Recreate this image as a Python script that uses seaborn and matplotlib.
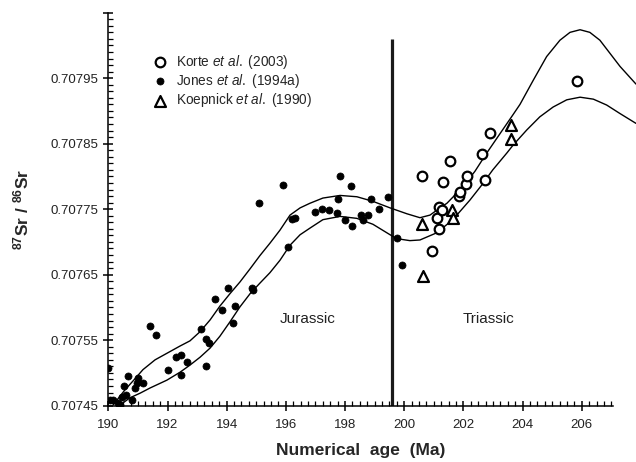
import numpy as np
import pandas as pd
import matplotlib
matplotlib.use("Agg")
import matplotlib.pyplot as plt
from matplotlib.ticker import FixedLocator
import seaborn as sns

# Korte et al. (2003) - open circles
korte_age = [200.59, 200.95, 201.10, 201.18, 201.19, 201.26, 201.32, 201.54,
             201.86, 201.88, 202.07, 202.11, 202.61, 202.72, 202.89, 205.82]
korte_sr = [0.707801, 0.707686, 0.707736, 0.707753, 0.707720, 0.707749, 0.707791, 0.707824,
            0.707770, 0.707776, 0.707789, 0.707801, 0.707835, 0.707795, 0.707867, 0.707946]

# Jones et al. (1994a) - filled dots
jones_age = [190.00, 190.06, 190.17, 190.34, 190.40, 190.45, 190.53, 190.60, 190.67, 190.79,
             190.90, 190.97, 191.01, 191.18, 191.41, 191.62, 192.00, 192.28, 192.44, 192.45,
             192.67, 193.12, 193.29, 193.30, 193.41, 193.60, 193.85, 194.05, 194.20, 194.28,
             194.86, 194.90, 195.09, 195.91, 196.06, 196.19, 196.30, 196.98, 197.23, 197.45,
             197.72, 197.77, 197.84, 197.99, 198.21, 198.25, 198.55, 198.60, 198.78, 198.88,
             199.15, 199.46, 199.76, 199.91]
jones_sr = [0.707507, 0.707459, 0.707459, 0.707454, 0.707451, 0.707464, 0.707480, 0.707466, 0.707495, 0.707459,
            0.707477, 0.707485, 0.707492, 0.707484, 0.707571, 0.707558, 0.707505, 0.707524, 0.707527, 0.707497,
            0.707516, 0.707567, 0.707552, 0.707510, 0.707545, 0.707613, 0.707596, 0.707629, 0.707577, 0.707602,
            0.707629, 0.707626, 0.707759, 0.707787, 0.707692, 0.707735, 0.707737, 0.707745, 0.707750, 0.707749,
            0.707744, 0.707766, 0.707801, 0.707734, 0.707785, 0.707725, 0.707741, 0.707734, 0.707741, 0.707765,
            0.707750, 0.707768, 0.707706, 0.707665]

# Koepnick et al. (1990) - open triangles
koep_age = [200.61, 200.62, 201.62, 201.63, 203.60, 203.60]
koep_sr = [0.707728, 0.707648, 0.707749, 0.707737, 0.707878, 0.707857]

# envelope curves
upper_age = [190.16, 190.56, 190.90, 191.17, 191.58, 191.98, 192.42, 192.76, 193.10, 193.44,
             193.77, 194.11, 194.45, 194.79, 195.12, 195.46, 195.80, 196.14, 196.48, 196.81,
             197.25, 197.83, 198.40, 198.94, 199.52, 200.09, 200.53, 200.87, 201.21, 201.44,
             201.98, 202.39, 202.79, 203.23, 203.67, 203.91, 204.36, 204.81, 205.26, 205.60,
             205.94, 206.27, 206.61, 206.95, 207.29, 207.83]
upper_sr = [0.707451, 0.707474, 0.707491, 0.707505, 0.707520, 0.707530, 0.707541, 0.707549, 0.707563, 0.707581,
            0.707602, 0.707621, 0.707639, 0.707659, 0.707679, 0.707698, 0.707718, 0.707741, 0.707752, 0.707759,
            0.707767, 0.707771, 0.707769, 0.707762, 0.707752, 0.707743, 0.707737, 0.707741, 0.707752, 0.707759,
            0.707784, 0.707808, 0.707836, 0.707865, 0.707894, 0.707910, 0.707947, 0.707983, 0.708008, 0.708020,
            0.708024, 0.708020, 0.708008, 0.707988, 0.707968, 0.707941]

lower_age = [190.40, 190.73, 191.07, 191.41, 191.98, 192.42, 192.76, 193.10, 193.44, 193.77,
             194.11, 194.45, 194.79, 195.12, 195.46, 195.80, 196.14, 196.48, 196.81, 197.25,
             197.83, 198.40, 198.94, 199.52, 199.75, 200.19, 200.53, 201.10, 201.64, 202.22,
             202.62, 202.99, 203.47, 203.68, 204.14, 204.58, 205.03, 205.49, 205.94, 206.39,
             206.84, 207.29, 207.83]
lower_sr = [0.707451, 0.707462, 0.707469, 0.707477, 0.707489, 0.707501, 0.707512, 0.707524, 0.707538, 0.707556,
            0.707578, 0.707601, 0.707621, 0.707637, 0.707653, 0.707672, 0.707695, 0.707711, 0.707721, 0.707734,
            0.707739, 0.707736, 0.707727, 0.707711, 0.707705, 0.707702, 0.707703, 0.707714, 0.707734, 0.707764,
            0.707787, 0.707810, 0.707836, 0.707848, 0.707871, 0.707891, 0.707906, 0.707917, 0.707921, 0.707918,
            0.707909, 0.707896, 0.707881]

boundary_age = 199.6
boundary_top = 0.70801

x_ticks = [190, 192, 194, 196, 198, 200, 202, 204, 206]
y_ticks = [0.70745, 0.70755, 0.70765, 0.70775, 0.70785, 0.70795, 0.70805]
y_labels = ['0.70745', '0.70755', '0.70765', '0.70775', '0.70785', '0.70795', '']

sns.set_style("ticks")
plt.rcParams['font.family'] = ['Liberation Sans', 'DejaVu Sans']
plt.rcParams['mathtext.fontset'] = 'custom'
plt.rcParams['mathtext.rm'] = 'Liberation Sans'
plt.rcParams['mathtext.it'] = 'Liberation Sans:italic'
plt.rcParams['mathtext.bf'] = 'Liberation Sans:bold'

fig = plt.figure(figsize=(6.36, 4.62), dpi=100)
ax = fig.add_axes([0.1703, 0.1219, 0.8297, 0.8506])

up = pd.DataFrame({'age': upper_age, 'sr': upper_sr})
lo = pd.DataFrame({'age': lower_age, 'sr': lower_sr})
sns.lineplot(data=up, x='age', y='sr', ax=ax, color='black', lw=1.0, sort=False, estimator=None)
sns.lineplot(data=lo, x='age', y='sr', ax=ax, color='black', lw=1.0, sort=False, estimator=None)

ax.vlines(boundary_age, 0.70745, boundary_top, color='#1a1a1a', lw=2.3, zorder=1)

sns.scatterplot(x=korte_age, y=korte_sr, ax=ax, marker='o', s=48, facecolor='white',
                edgecolor='black', linewidth=1.6, label=r'Korte $\it{et\ al.}$ (2003)', zorder=3)
sns.scatterplot(x=jones_age, y=jones_sr, ax=ax, marker='o', s=26, color='black',
                edgecolor='black', linewidth=0.5, label=r'Jones $\it{et\ al.}$ (1994a)', zorder=3)
sns.scatterplot(x=koep_age, y=koep_sr, ax=ax, marker='^', s=62, facecolor='white',
                edgecolor='black', linewidth=1.6, label=r'Koepnick $\it{et\ al.}$ (1990)', zorder=3)

ax.set_xlim(190, 207.83)
ax.set_ylim(0.70745, 0.70805)
ax.spines['top'].set_visible(False)
ax.spines['right'].set_visible(False)
ax.spines['bottom'].set_bounds(190, 207.05)
ax.spines['left'].set_bounds(0.70745, 0.70805)
for s in ['bottom', 'left']:
    ax.spines[s].set_linewidth(1.1)
    ax.spines[s].set_color('black')

ax.set_xticks(x_ticks)
ax.set_xticklabels([str(v) for v in x_ticks])
ax.xaxis.set_minor_locator(FixedLocator(np.arange(190, 207.01, 0.25)))
ax.set_yticks(y_ticks)
ax.set_yticklabels(y_labels)
ax.yaxis.set_minor_locator(FixedLocator(np.arange(0.70745, 0.708051, 0.00001)))
ax.tick_params(axis='both', which='major', direction='inout', length=7, width=1.1,
               labelsize=9.5, color='black', labelcolor='#222222')
ax.tick_params(axis='both', which='minor', direction='in', length=3.5, width=0.9, color='black')
ax.tick_params(axis='x', which='major', pad=6)
ax.tick_params(axis='y', which='major', pad=4)

ax.set_xlabel('Numerical  age  (Ma)', fontsize=12.5, fontweight='bold')
ax.xaxis.set_label_coords(0.479, -0.095)
ax.set_ylabel(r'$\mathbf{^{87}Sr\ /\ ^{86}Sr}$', fontsize=12.5)
ax.yaxis.set_label_coords(-0.145, 0.5)

ax.text(196.73, 0.707583, 'Jurassic', fontsize=11, ha='center', va='center', color='#222222')
ax.text(202.86, 0.707583, 'Triassic', fontsize=11, ha='center', va='center', color='#222222')

ax.legend(loc='upper left', bbox_to_anchor=(153.1 / 636, 1 - 52.7 / 462),
          bbox_transform=fig.transFigure, frameon=False, borderpad=0, borderaxespad=0,
          handlelength=1.0, handletextpad=0.7, labelspacing=0.1, fontsize=9.8)

fig.savefig('out.png', dpi=100)
